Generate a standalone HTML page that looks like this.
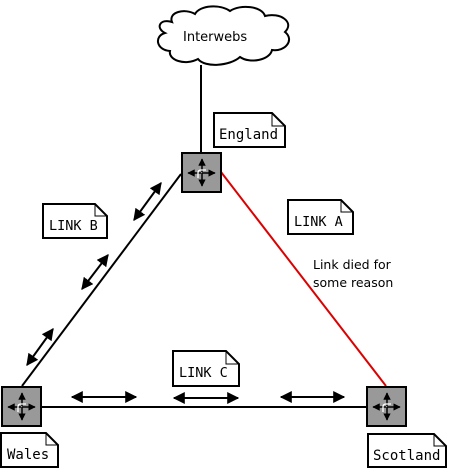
<!DOCTYPE html>
<html><head><style>body{margin:0;background:#fff}svg{display:block}text{font-family:"DejaVu Sans","Liberation Sans",sans-serif;font-size:12.5px}.m{font-family:"DejaVu Sans Mono","Liberation Mono",monospace;font-size:13.5px}</style></head><body>
<svg width="449" height="470" viewBox="0 0 449 470" xmlns="http://www.w3.org/2000/svg">
<defs>
<marker id="ah" viewBox="0 0 10 10" refX="9" refY="5" markerWidth="6" markerHeight="6" orient="auto-start-reverse" markerUnits="strokeWidth"><path d="M0,0 L10,5 L0,10 z" fill="#000"/></marker>
<marker id="sa" viewBox="0 0 10 10" refX="9" refY="5" markerWidth="5" markerHeight="5" orient="auto-start-reverse"><path d="M0,0 L10,5 L0,10 z" fill="#000"/></marker>
<g id="rt">
<rect x="0" y="0" width="39" height="39" fill="#999" stroke="#000" stroke-width="2"/>
<g stroke="#000" stroke-width="1.5"><line x1="20" y1="19" x2="20" y2="6" marker-end="url(#sa)"/><line x1="20" y1="20" x2="20" y2="33" marker-end="url(#sa)"/><line x1="19" y1="20" x2="6" y2="20" marker-end="url(#sa)"/><line x1="20" y1="20" x2="33" y2="20" marker-end="url(#sa)"/></g>
<path d="M16,25 L16,20 Q16,17 19,17 L24,17" stroke="#fff" stroke-width="1.3" fill="none"/>
</g>
</defs>
<path d="M172,22 C168,12 185,8 195,14 C200,5 220,4 230,11 C240,4 262,6 265,16 C280,12 295,22 285,32 C295,40 285,52 272,50 C270,60 250,64 240,57 C230,66 205,68 198,59 C185,66 168,60 170,51 C156,50 154,36 165,33 C155,28 160,18 172,22 Z" fill="#fff" stroke="#000" stroke-width="2"/>
<text x="183" y="41" style="font-size:13px">Interwebs</text>
<line x1="201" y1="65" x2="201" y2="153" stroke="#000" stroke-width="2"/>
<line x1="181" y1="174" x2="22" y2="386" stroke="#000" stroke-width="2"/>
<line x1="221" y1="172" x2="386" y2="386" stroke="#d00" stroke-width="2"/>
<line x1="41" y1="407" x2="367" y2="407" stroke="#000" stroke-width="2"/>
<g stroke="#000" stroke-width="2">
<line x1="134" y1="220" x2="161" y2="183" marker-start="url(#ah)" marker-end="url(#ah)"/>
<line x1="82" y1="289" x2="108" y2="255" marker-start="url(#ah)" marker-end="url(#ah)"/>
<line x1="27" y1="365" x2="53" y2="329" marker-start="url(#ah)" marker-end="url(#ah)"/>
<line x1="72" y1="397" x2="136" y2="397" marker-start="url(#ah)" marker-end="url(#ah)"/>
<line x1="174" y1="398" x2="238" y2="398" marker-start="url(#ah)" marker-end="url(#ah)"/>
<line x1="281" y1="397" x2="344" y2="397" marker-start="url(#ah)" marker-end="url(#ah)"/>
</g>
<use href="#rt" x="182" y="153"/>
<use href="#rt" x="2" y="387"/>
<use href="#rt" x="367" y="387"/>
<g fill="#fff" stroke="#000" stroke-width="2">
<path d="M214,113 H272 L285,126 V147 H214 Z"/><path d="M272,113 V126 H285" fill="none" stroke-width="1"/>
<path d="M43,204 H95 L107,216 V238 H43 Z"/><path d="M95,204 V216 H107" fill="none" stroke-width="1"/>
<path d="M288,200 H341 L353,212 V234 H288 Z"/><path d="M341,200 V212 H353" fill="none" stroke-width="1"/>
<path d="M173,351 H226 L239,364 V386 H173 Z"/><path d="M226,351 V364 H239" fill="none" stroke-width="1"/>
<path d="M1,433 H46 L58,445 V467 H1 Z"/><path d="M46,433 V445 H58" fill="none" stroke-width="1"/>
<path d="M368,434 H434 L446,446 V467 H368 Z"/><path d="M434,434 V446 H446" fill="none" stroke-width="1"/>
</g>
<text class="m" x="219" y="139" style="font-size:14px">England</text>
<text class="m" x="49" y="230">LINK B</text>
<text class="m" x="294" y="226">LINK A</text>
<text class="m" x="179" y="377">LINK C</text>
<text class="m" x="7" y="459" style="font-size:14px">Wales</text>
<text class="m" x="373" y="460" style="font-size:14px">Scotland</text>
<text x="313" y="269">Link died for</text>
<text x="313" y="287">some reason</text>
</svg>
</body></html>
